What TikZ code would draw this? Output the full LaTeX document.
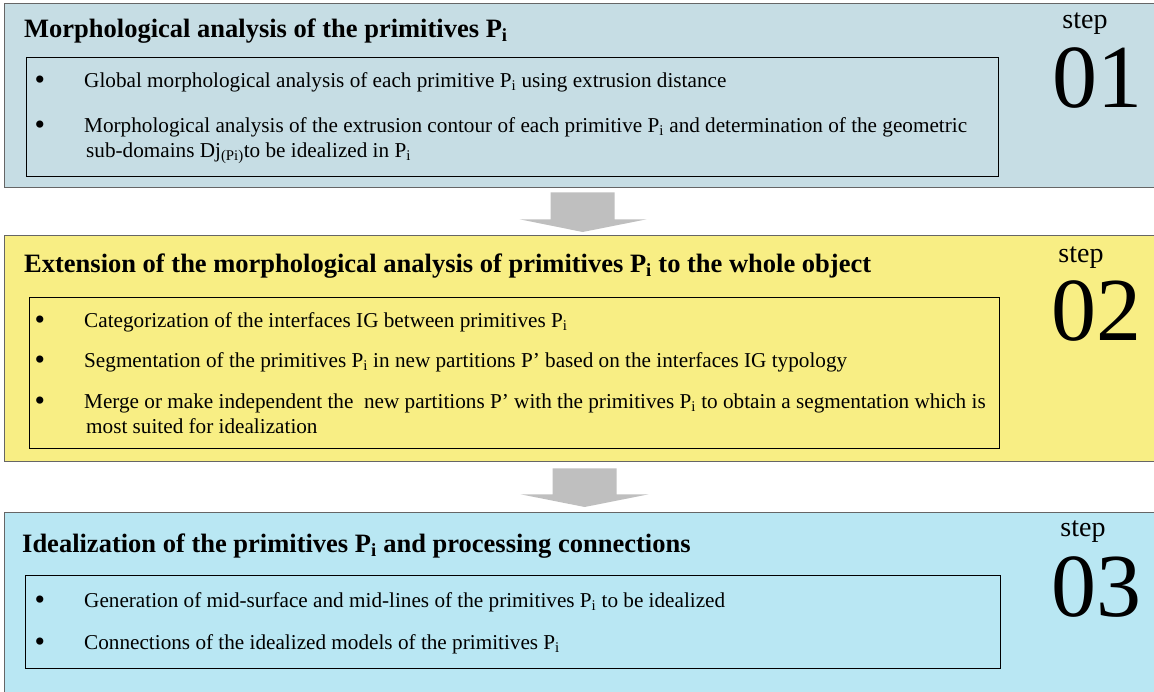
\documentclass[tikz,border=0pt]{standalone}
\usepackage{fontspec}
\setmainfont{Liberation Serif}
\usetikzlibrary{calc}

\definecolor{panelgrey}{HTML}{C6DDE4}
\definecolor{panelyellow}{HTML}{F8EE84}
\definecolor{panelcyan}{HTML}{B9E7F3}

\begin{document}
\begin{tikzpicture}[
        x=1pt, y=-1pt,
        panel/.style={rectangle, draw=black!60, line width=1.3pt, anchor=north west, inner sep=0pt, minimum width=1160pt},
        listbox/.style={rectangle, draw=black, line width=0.9pt, anchor=north west, inner sep=0pt},
        title/.style={anchor=base west, inner sep=0pt, font=\fontsize{26.5}{30}\selectfont\bfseries},
        item/.style={anchor=base west, inner sep=0pt, font=\fontsize{21.2}{25}\selectfont},
        dot/.style={anchor=base, inner sep=0pt, font=\fontsize{30}{30}\selectfont},
        steplabel/.style={inner sep=0pt, font=\fontsize{28}{28}\selectfont},
        stepnum/.style={inner sep=0pt, font=\fontsize{90}{90}\selectfont},
        blockarrow/.style={fill=black!25}
    ]
        \useasboundingbox (0,0) rectangle (1154,691);

        % step 01
        \node[panel, fill=panelgrey, minimum height=184pt] (morph) at (4,3) {};
        \node[listbox, minimum width=972pt, minimum height=119pt] (morphlist) at (26,57) {};
        \node[title] (morphtitle) at (24,37) {Morphological analysis of the primitives P\textsubscript{i}};
        \node[dot] (morphdota) at (40,89) {\textbullet};
        \node[item] (morphitema) at (84,87) {Global morphological analysis of each primitive P\textsubscript{i} using extrusion distance};
        \node[dot] (morphdotb) at (40,134) {\textbullet};
        \node[item] (morphitemb) at (84,132) {\begin{tabular}[t]{@{}l@{}}Morphological analysis of the extrusion contour of each primitive P\textsubscript{i} and determination of the geometric\\ \hspace{2pt}sub-domains Dj\textsubscript{(Pi)}to be idealized in P\textsubscript{i}\end{tabular}};
        \node[steplabel] (morphstep) at (1085,24) {step};
        \node[stepnum] (morphnum) at (1097,78) {01};

        % step 02
        \node[panel, fill=panelyellow, minimum height=226pt] (ext) at (4,235) {};
        \node[listbox, minimum width=970pt, minimum height=151pt] (extlist) at (29,297) {};
        \node[title] (exttitle) at (24,272) {Extension of the morphological analysis of primitives P\textsubscript{i} to the whole object};
        \node[dot] (extdota) at (40,329) {\textbullet};
        \node[item] (extitema) at (84,327) {Categorization of the interfaces IG between primitives P\textsubscript{i}};
        \node[dot] (extdotb) at (40,369) {\textbullet};
        \node[item] (extitemb) at (84,367) {Segmentation of the primitives P\textsubscript{i} in new partitions P’ based on the interfaces IG typology};
        \node[dot] (extdotc) at (40,410) {\textbullet};
        \node[item] (extitemc) at (84,408) {\begin{tabular}[t]{@{}l@{}}Merge or make independent the\ \ new partitions P’ with the primitives P\textsubscript{i} to obtain a segmentation which is\\ \hspace{2pt}most suited for idealization\end{tabular}};
        \node[steplabel] (extstep) at (1081,258) {step};
        \node[stepnum] (extnum) at (1096,311) {02};

        % step 03
        \node[panel, fill=panelcyan, minimum height=190pt] (ideal) at (4,512) {};
        \node[listbox, minimum width=975pt, minimum height=93pt] (ideallist) at (25,575) {};
        \node[title] (idealtitle) at (22,552) {Idealization of the primitives P\textsubscript{i} and processing connections};
        \node[dot] (idealdota) at (40,609) {\textbullet};
        \node[item] (idealitema) at (84,607) {Generation of mid-surface and mid-lines of the primitives P\textsubscript{i} to be idealized};
        \node[dot] (idealdotb) at (40,651) {\textbullet};
        \node[item] (idealitemb) at (84,649) {Connections of the idealized models of the primitives P\textsubscript{i}};
        \node[steplabel] (idealstep) at (1083,532) {step};
        \node[stepnum] (idealnum) at (1096,587) {03};

        % block arrows between the steps
        \fill[blockarrow] ($(morph.south)+(-34,4)$) -- ($(morph.south)+(30,4)$) -- ($(morph.south)+(30,31)$) -- ($(morph.south)+(62,31)$)
            -- ($(ext.north)+(-2,-3)$) -- ($(morph.south)+(-65,31)$) -- ($(morph.south)+(-34,31)$) -- cycle;
        \fill[blockarrow] ($(ext.south)+(-32,6)$) -- ($(ext.south)+(32,6)$) -- ($(ext.south)+(32,32)$) -- ($(ext.south)+(64,32)$)
            -- ($(ideal.north)+(0,-5)$) -- ($(ext.south)+(-64,32)$) -- ($(ext.south)+(-32,32)$) -- cycle;
    \end{tikzpicture}
\end{document}
